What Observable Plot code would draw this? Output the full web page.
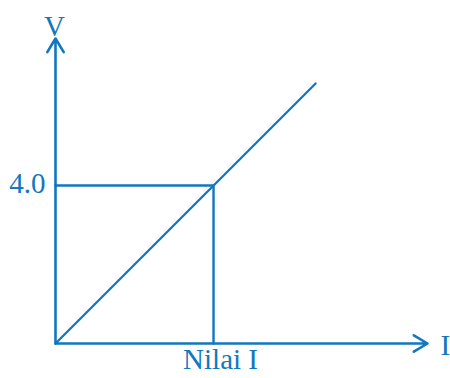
<!DOCTYPE html>
<html>
<head>
<meta charset="utf-8">
<script src="https://cdn.jsdelivr.net/npm/d3@7"></script>
<script src="https://cdn.jsdelivr.net/npm/@observablehq/plot@0.6"></script>
<style>
  html, body { margin: 0; padding: 0; background: #fff; }
</style>
</head>
<body>
<div id="chart"></div>
<script>
// Data (in chart units: I on x, V on y)
const axisLabels = ["I", "V"];
const tickLabelX = "Nilai I";
const tickLabelY = "4.0";
const pointI = 1;        // "Nilai I"
const pointV = 4.0;      // V at Nilai I
const lineEnd = {I: 1.646, V: 6.58};   // end of the V–I line
const axisMax = {I: 2.354, V: 7.72};   // arrow tips of the axes

const color = "#1177bf";
const font = "'Liberation Serif', 'Times New Roman', serif";

const linePts = [{I: 0, V: 0}, lineEnd];
const guidePts = [{I: 0, V: pointV}, {I: pointI, V: pointV}, {I: pointI, V: 0}];
const axes = [
  {x1: 0, y1: 0, x2: axisMax.I, y2: 0},
  {x1: 0, y1: 0, x2: 0, y2: axisMax.V}
];

const chart = Plot.plot({
  width: 450,
  height: 378,
  margin: 0,
  style: {fontFamily: font, background: "#fff"},
  x: {domain: [0, axisMax.I], range: [55, 427], axis: null},
  y: {domain: [0, axisMax.V], range: [343, 38], axis: null},
  marks: [
    Plot.line(guidePts, {x: "I", y: "V", stroke: color, strokeWidth: 2.4}),
    Plot.line(linePts, {x: "I", y: "V", stroke: color, strokeWidth: 2.3}),
    Plot.arrow(axes, {x1: "x1", y1: "y1", x2: "x2", y2: "y2", stroke: color, strokeWidth: 2.6,
      headLength: 9.2, headAngle: 62, bend: 0}),
    Plot.text([axisLabels[1]], {x: 0, y: axisMax.V, text: d => d, fill: color, fontSize: 29,
      fontFamily: font, textAnchor: "middle", lineAnchor: "bottom", dy: -3, dx: -1}),
    Plot.text([axisLabels[0]], {x: axisMax.I, y: 0, text: d => d, fill: color, fontSize: 29,
      fontFamily: font, textAnchor: "start", dx: 13, dy: 2}),
    Plot.text([tickLabelY], {x: 0, y: pointV, text: d => d, fill: color, fontSize: 29,
      fontFamily: font, textAnchor: "end", dx: -10, dy: -2}),
    Plot.text([tickLabelX], {x: pointI, y: 0, text: d => d, fill: color, fontSize: 29,
      fontFamily: font, textAnchor: "middle", lineAnchor: "top", dy: 5, dx: 7})
  ]
});
document.getElementById("chart").appendChild(chart);
</script>
</body>
</html>
